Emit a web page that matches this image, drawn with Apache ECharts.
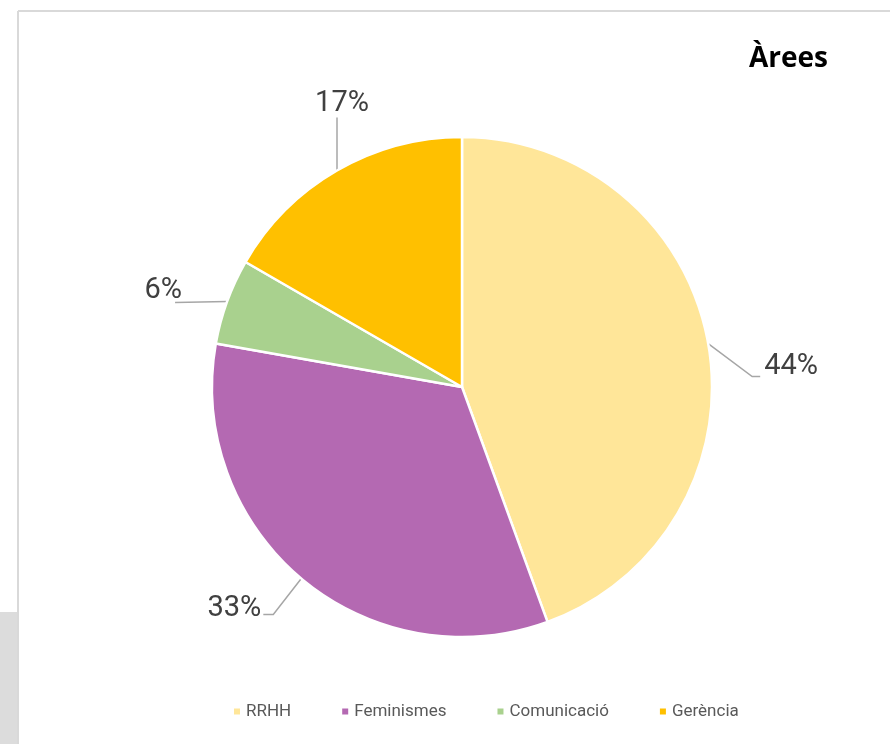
<!DOCTYPE html>
<html>
<head>
<meta charset="utf-8">
<script src="https://cdn.jsdelivr.net/npm/echarts@6/dist/echarts.min.js"></script>
<style>
  html, body { margin: 0; padding: 0; background: #fff; }
  #chart { width: 890px; height: 744px; }
</style>
</head>
<body>
<div id="chart"></div>
<script>
// ---- data ----
const categories = ['RRHH', 'Feminismes', 'Comunicació', 'Gerència'];
const counts = [8, 6, 1, 3];
const sliceColors = ['#FFE699', '#B469B2', '#A9D18E', '#FFC000'];
const chartTitle = 'Àrees';

// ---- layout / style (label placement relative to slice edge anchor) ----
const CX = 462, CY = 387, R = 250;
const labelPlacement = [
  { dx: 56, dy: 23, align: 'left', line: [[-12, 10], [-4, 10]] },
  { dx: -40, dy: 30, align: 'right', line: [[12, 6], [2, 6]] },
  { dx: -45, dy: -11, align: 'right', line: [[-7, 12]] },
  { dx: 5, dy: -67, align: 'center', line: [[-5, 14]] }
];

const total = counts.reduce((a, b) => a + b, 0);
function edgePoint(i) {
  let before = 0;
  for (let k = 0; k < i; k++) before += counts[k];
  const mid = (before + counts[i] / 2) / total * 2 * Math.PI;
  return [CX + R * Math.sin(mid), CY - R * Math.cos(mid)];
}

const chart = echarts.init(document.getElementById('chart'), null, { renderer: 'canvas' });
chart.setOption({
  animation: false,
  backgroundColor: '#ffffff',
  textStyle: { fontFamily: 'Roboto' },
  title: {
    text: chartTitle,
    right: 57,
    top: 40,
    textStyle: { fontFamily: 'Open Sans', fontWeight: 'bold', fontSize: 28, color: '#000000' }
  },
  legend: {
    data: categories,
    left: 227,
    top: 698,
    itemWidth: 8,
    itemHeight: 8,
    itemGap: 49,
    icon: 'rect',
    textStyle: { fontFamily: 'Roboto', fontSize: 17, color: '#595959' }
  },
  graphic: [
    { type: 'line', shape: { x1: 18, y1: 11, x2: 890, y2: 11 }, style: { stroke: '#d9d9d9', lineWidth: 2 }, silent: true },
    { type: 'line', shape: { x1: 18, y1: 11, x2: 18, y2: 744 }, style: { stroke: '#d9d9d9', lineWidth: 2 }, silent: true },
    { type: 'rect', shape: { x: 0, y: 612, width: 17, height: 132 }, style: { fill: '#dcdcdc' }, silent: true }
  ],
  series: [{
    type: 'pie',
    center: [CX, CY],
    radius: [0, R],
    startAngle: 90,
    clockwise: true,
    avoidLabelOverlap: false,
    data: categories.map((c, i) => ({ name: c, value: counts[i], itemStyle: { color: sliceColors[i] } })),
    itemStyle: { borderColor: '#ffffff', borderWidth: 2.5 },
    label: {
      show: true,
      position: 'outside',
      formatter: (p) => Math.round(p.value / total * 100) + '%',
      fontFamily: 'Roboto',
      fontSize: 29,
      color: '#404040'
    },
    labelLine: {
      show: true,
      length: 15,
      length2: 10,
      lineStyle: { color: '#a6a6a6', width: 1.5 }
    },
    labelLayout: function (p) {
      const i = p.dataIndex;
      const o = labelPlacement[i];
      const a = (p.labelLinePoints && p.labelLinePoints[0]) ? p.labelLinePoints[0] : edgePoint(i);
      const x = a[0] + o.dx, y = a[1] + o.dy;
      const pts = [[a[0], a[1]]].concat(o.line.map(q => [x + q[0], y + q[1]]));
      return { x: x, y: y, align: o.align, verticalAlign: 'middle', labelLinePoints: pts };
    },
    emphasis: { disabled: true }
  }]
});
</script>
</body>
</html>
